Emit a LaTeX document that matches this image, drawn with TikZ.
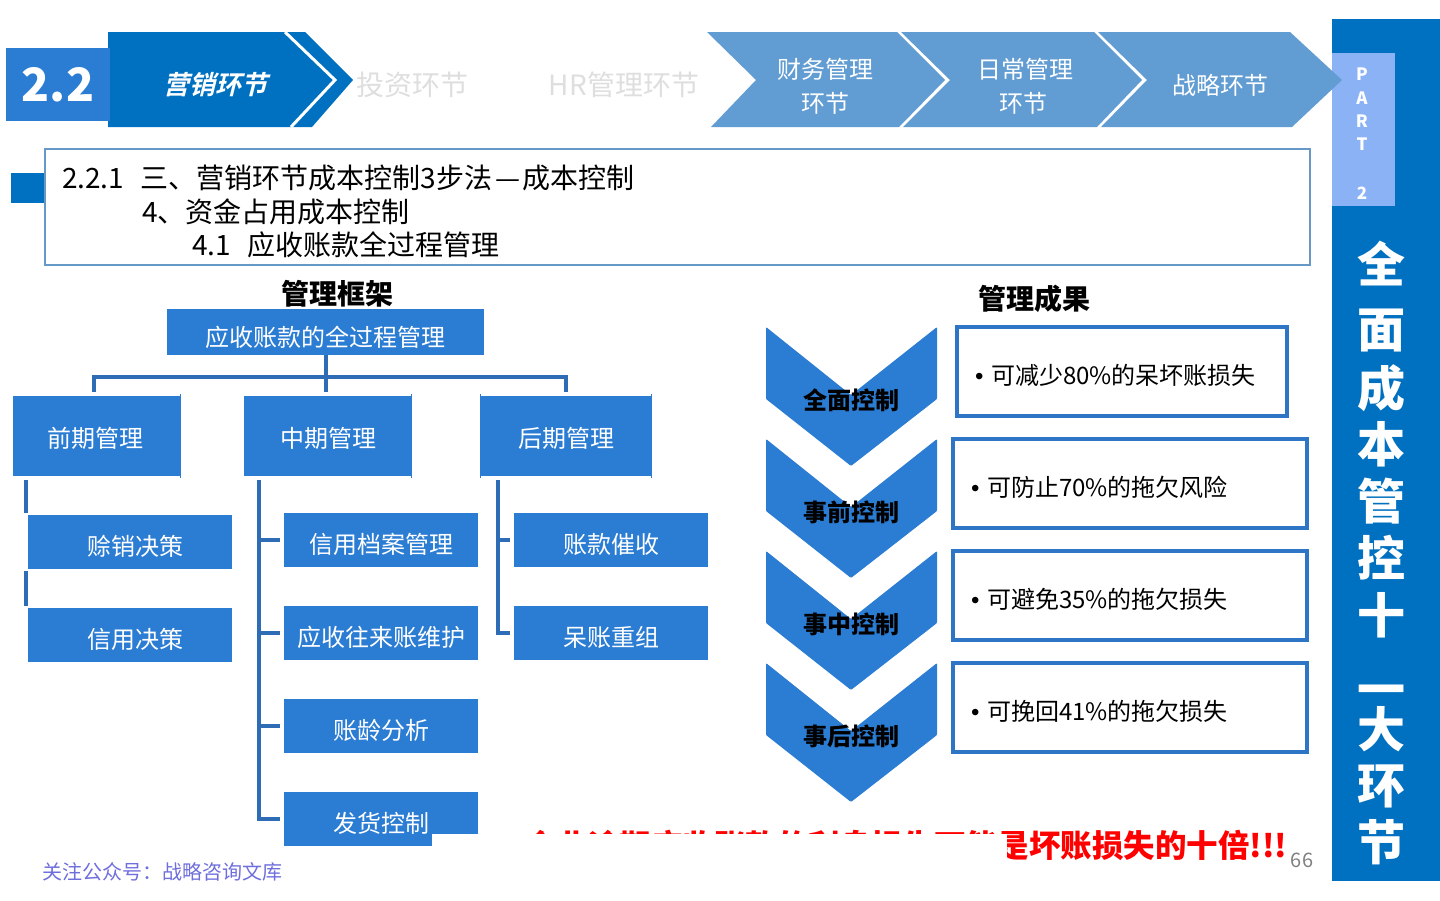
\documentclass[tikz,border=0pt]{standalone}
\usepackage{fontspec}
\setmainfont{Noto Sans CJK SC}
\newfontfamily\slantfont[FakeSlant=0.25,UprightFont=* Bold]{Noto Sans CJK SC}
\newfontfamily\bulletfont{Liberation Sans}
\usetikzlibrary{
positioning,
chains,
scopes
}
\definecolor{boxblue}{HTML}{2B7CD3}
\definecolor{darkblue}{HTML}{0070C0}
\definecolor{stepblue}{HTML}{619CD2}
\definecolor{linkblue}{HTML}{2E6DB5}
\definecolor{rimblue}{HTML}{2E75C6}
\definecolor{tabblue}{HTML}{8AB2F5}
\definecolor{frameblue}{HTML}{6699C8}
\definecolor{footblue}{HTML}{6E6EDC}
\newcommand{\fsz}[1]{\fontsize{#1pt}{#1pt}\selectfont}
\newcommand{\dotmark}{\makebox[16pt][l]{\bulletfont •}}

\begin{document}
\begin{tikzpicture}[
    x=1pt, y=-1pt,
    every node/.style={outer sep=0pt, inner sep=0pt},
    blockbox/.style={fill=boxblue, text=white, font=\fsz{24}, text depth=0pt},
    headbox/.style={blockbox, minimum width=168pt, minimum height=80pt, text height=22pt},
    subbox/.style={blockbox, minimum width=194pt, minimum height=54pt, text height=27pt},
    resultbox/.style={draw=rimblue, line width=4pt, fill=white, font=\fsz{24}, minimum height=89pt,
      text width=318pt, inner xsep=18pt, align=left, text height=27pt, text depth=0pt},
    steplabel/.style={text=white, font=\fsz{24}},
    titleline/.style={anchor=west, font=\fsz{28}},
    heading/.style={font=\bfseries\fsz{28}},
    ctrllabel/.style={font=\bfseries\fsz{24}},
    link/.style={draw=linkblue, line width=3.5pt}]
  \useasboundingbox (0,0) rectangle (1440,900);

  % side panel
  \fill[darkblue] (1332,19) rectangle (1440,881);
  \fill[tabblue] (1332,53) rectangle (1395,206);
  \foreach \y/\c in {74/P,98/A,121/R,144/T,193/2}
    \node[text=white, font=\bfseries\fsz{17}] (part\c) at (1362,\y) {\c};
  \foreach \y/\c in {264/全,331/面,388/成,444/本,501/管,558/控,615/十,696/一,729/大,786/环,842/节}
    \node[text=white, font=\bfseries\fsz{48}] (side\y) at (1381,\y) {\c};

  % header steps
  \fill[darkblue] (108,32) -- (305,32) -- (353,80) -- (312,127) -- (108,127) -- cycle;
  \draw[white, line width=3pt] (285,32) -- (335,80) -- (291,127);
  \fill[boxblue] (6,48) rectangle (110,121);
  \fill[stepblue] (707,32) -- (897,32) -- (945,80) -- (899,127) -- (711,127) -- (756,80) -- cycle;
  \fill[stepblue] (901,32) -- (1094,32) -- (1142,80) -- (1097,127) -- (903,127) -- (950,80) -- cycle;
  \fill[stepblue] (1098,32) -- (1290,32) -- (1342,80) -- (1292,127) -- (1101,127) -- (1147,80) -- cycle;
  \node[text=white, font=\bfseries\fsz{46}] (secnum) at (58,85) {2.2};
  \node[text=white, font=\slantfont\fsz{26}] (market) at (215,85) {营销环节};
  \node[text=black!13, font=\fsz{28}] (invest) at (412,85) {投资环节};
  \node[text=black!13, font=\fsz{28}] (hr) at (624,85) {HR管理环节};
  \node[steplabel] (finance) at (825,69) {财务管理};
  \node[steplabel, below=12pt of finance] {环节};
  \node[steplabel] (daily) at (1025,69) {日常管理};
  \node[steplabel, below=12pt of daily, xshift=-2pt] {环节};
  \node[steplabel] (strategy) at (1220,85) {战略环节};

  % title
  \fill[darkblue] (11,173) rectangle (45,203);
  \draw[frameblue, line width=1.6pt] (45,149) rectangle (1310,265);
  \node[titleline] (title) at (62,178) {2.2.1\hspace{0.6em}三、营销环节成本控制3步法\hspace{2.5pt}—\hspace{2.5pt}成本控制};
  \node[titleline] (titleb) at (142,212) {4、资金占用成本控制};
  \node[titleline] (titlec) at (192,245) {4.1\hspace{0.6em}应收账款全过程管理};

  % left tree
  \node[heading] (framehead) at (337,294) {管理框架};
  \node[blockbox, minimum width=317pt, minimum height=46pt, text height=28pt] (root) at (325.5,332) {应收账款的全过程管理};
  \node[headbox] (prehead) at (97,436) {\hspace*{-4pt}前期管理};
  \node[headbox] (midhead) at (328,436) {中期管理};
  \node[headbox, minimum width=172pt] (posthead) at (566,436) {后期管理};
  { [start chain=pre going below, node distance=39pt]
    \node[subbox, minimum width=204pt, on chain] (credit) at (130,542) {\hspace*{10pt}赊销决策};
    \node[subbox, minimum width=204pt, on chain] (policy) {\hspace*{10pt}信用决策};
  }
  { [start chain=mid going below, node distance=39pt]
    \node[subbox, on chain] (archive) at (381,540) {信用档案管理};
    \node[subbox, on chain] (account) {应收往来账维护};
    \node[subbox, on chain] (aging) {账龄分析};
    \node[subbox, on chain] (delivery) {发货控制};
  }
  { [start chain=post going below, node distance=39pt]
    \node[subbox, on chain] (collect) at (611,540) {账款催收};
    \node[subbox, on chain] (baddebt) {呆账重组};
  }
  \foreach \h in {prehead,midhead,posthead}
    \draw[boxblue, line width=1pt] ([xshift=-.5pt,yshift=2pt]\h.north east) -- ([xshift=-.5pt,yshift=-2pt]\h.south east);
  \draw[boxblue, line width=1pt] ([xshift=.5pt,yshift=2pt]posthead.north west) -- ([xshift=.5pt,yshift=-2pt]posthead.south west);

  \coordinate (bus) at (326,377);
  \coordinate (pretop) at ([xshift=-3pt,yshift=4pt]prehead.north);
  \coordinate (midtop) at ([xshift=-2pt,yshift=4pt]midhead.north);
  \coordinate (posttop) at ([yshift=4pt]posthead.north);
  \coordinate (pretrunk) at (26,480);
  \coordinate (midtrunk) at (259,480);
  \coordinate (posttrunk) at (498,480);
  \draw[link] (pretop) |- (bus) -| (posttop);
  \draw[link] (root.south -| bus) -- (midtop);
  \draw[link, shorten >=2pt] (pretrunk) -- (pretrunk |- credit.north);
  \draw[link, shorten >=2pt, shorten <=2pt] (pretrunk |- credit.south) -- (pretrunk |- policy.north);
  \draw[link, shorten >=4pt] (midtrunk) |- (delivery.west);
  \draw[link, shorten >=4pt] (midtrunk |- archive.west) -- (archive.west);
  \draw[link, shorten >=4pt] (midtrunk |- account.west) -- (account.west);
  \draw[link, shorten >=4pt] (midtrunk |- aging.west) -- (aging.west);
  \draw[link, shorten >=4pt] (posttrunk) |- (baddebt.west);
  \draw[link, shorten >=4pt] (posttrunk |- collect.west) -- (collect.west);

  % right side
  \node[heading] (resulthead) at (1034,299) {管理成果};
  \foreach \t/\l in {327/全面控制,439/事前控制,551/事中控制,663/事后控制} {
    \fill[boxblue, rounded corners=1pt] (766,\t) -- (851,\t+68) -- (937,\t) -- (937,\t+72) -- (851,\t+139) -- (766,\t+72) -- cycle;
    \node[ctrllabel] (ctrl\t) at (851,\t+73) {\l};
  }
  \node[resultbox, text width=294pt] (resulta) at (1122,371) {\dotmark 可减少80\%的呆坏账损失};
  { [start chain=result going below, node distance=23pt]
    \node[resultbox, on chain] (resultb) at (1130,483) {\dotmark 可防止70\%的拖欠风险};
    \node[resultbox, on chain] (resultc) {\dotmark 可避免35\%的拖欠损失};
    \node[resultbox, on chain] (resultd) {\dotmark 可挽回41\%的拖欠损失};
  }

  % footer
  \node[text=red, anchor=west, font=\bfseries\fsz{31.5}] (warning) at (525,845) {企业逾期应收账款的利息损失可能是坏账损失的十倍!!!};
  \fill[white] (432,834) rectangle (1007,872);
  \node[text=black!50, font=\fsz{20}] (pageno) at (1302,860) {66};
  \node[text=footblue, font=\fsz{20}] (footer) at (162,872) {关注公众号：战略咨询文库};
\end{tikzpicture}
\end{document}
